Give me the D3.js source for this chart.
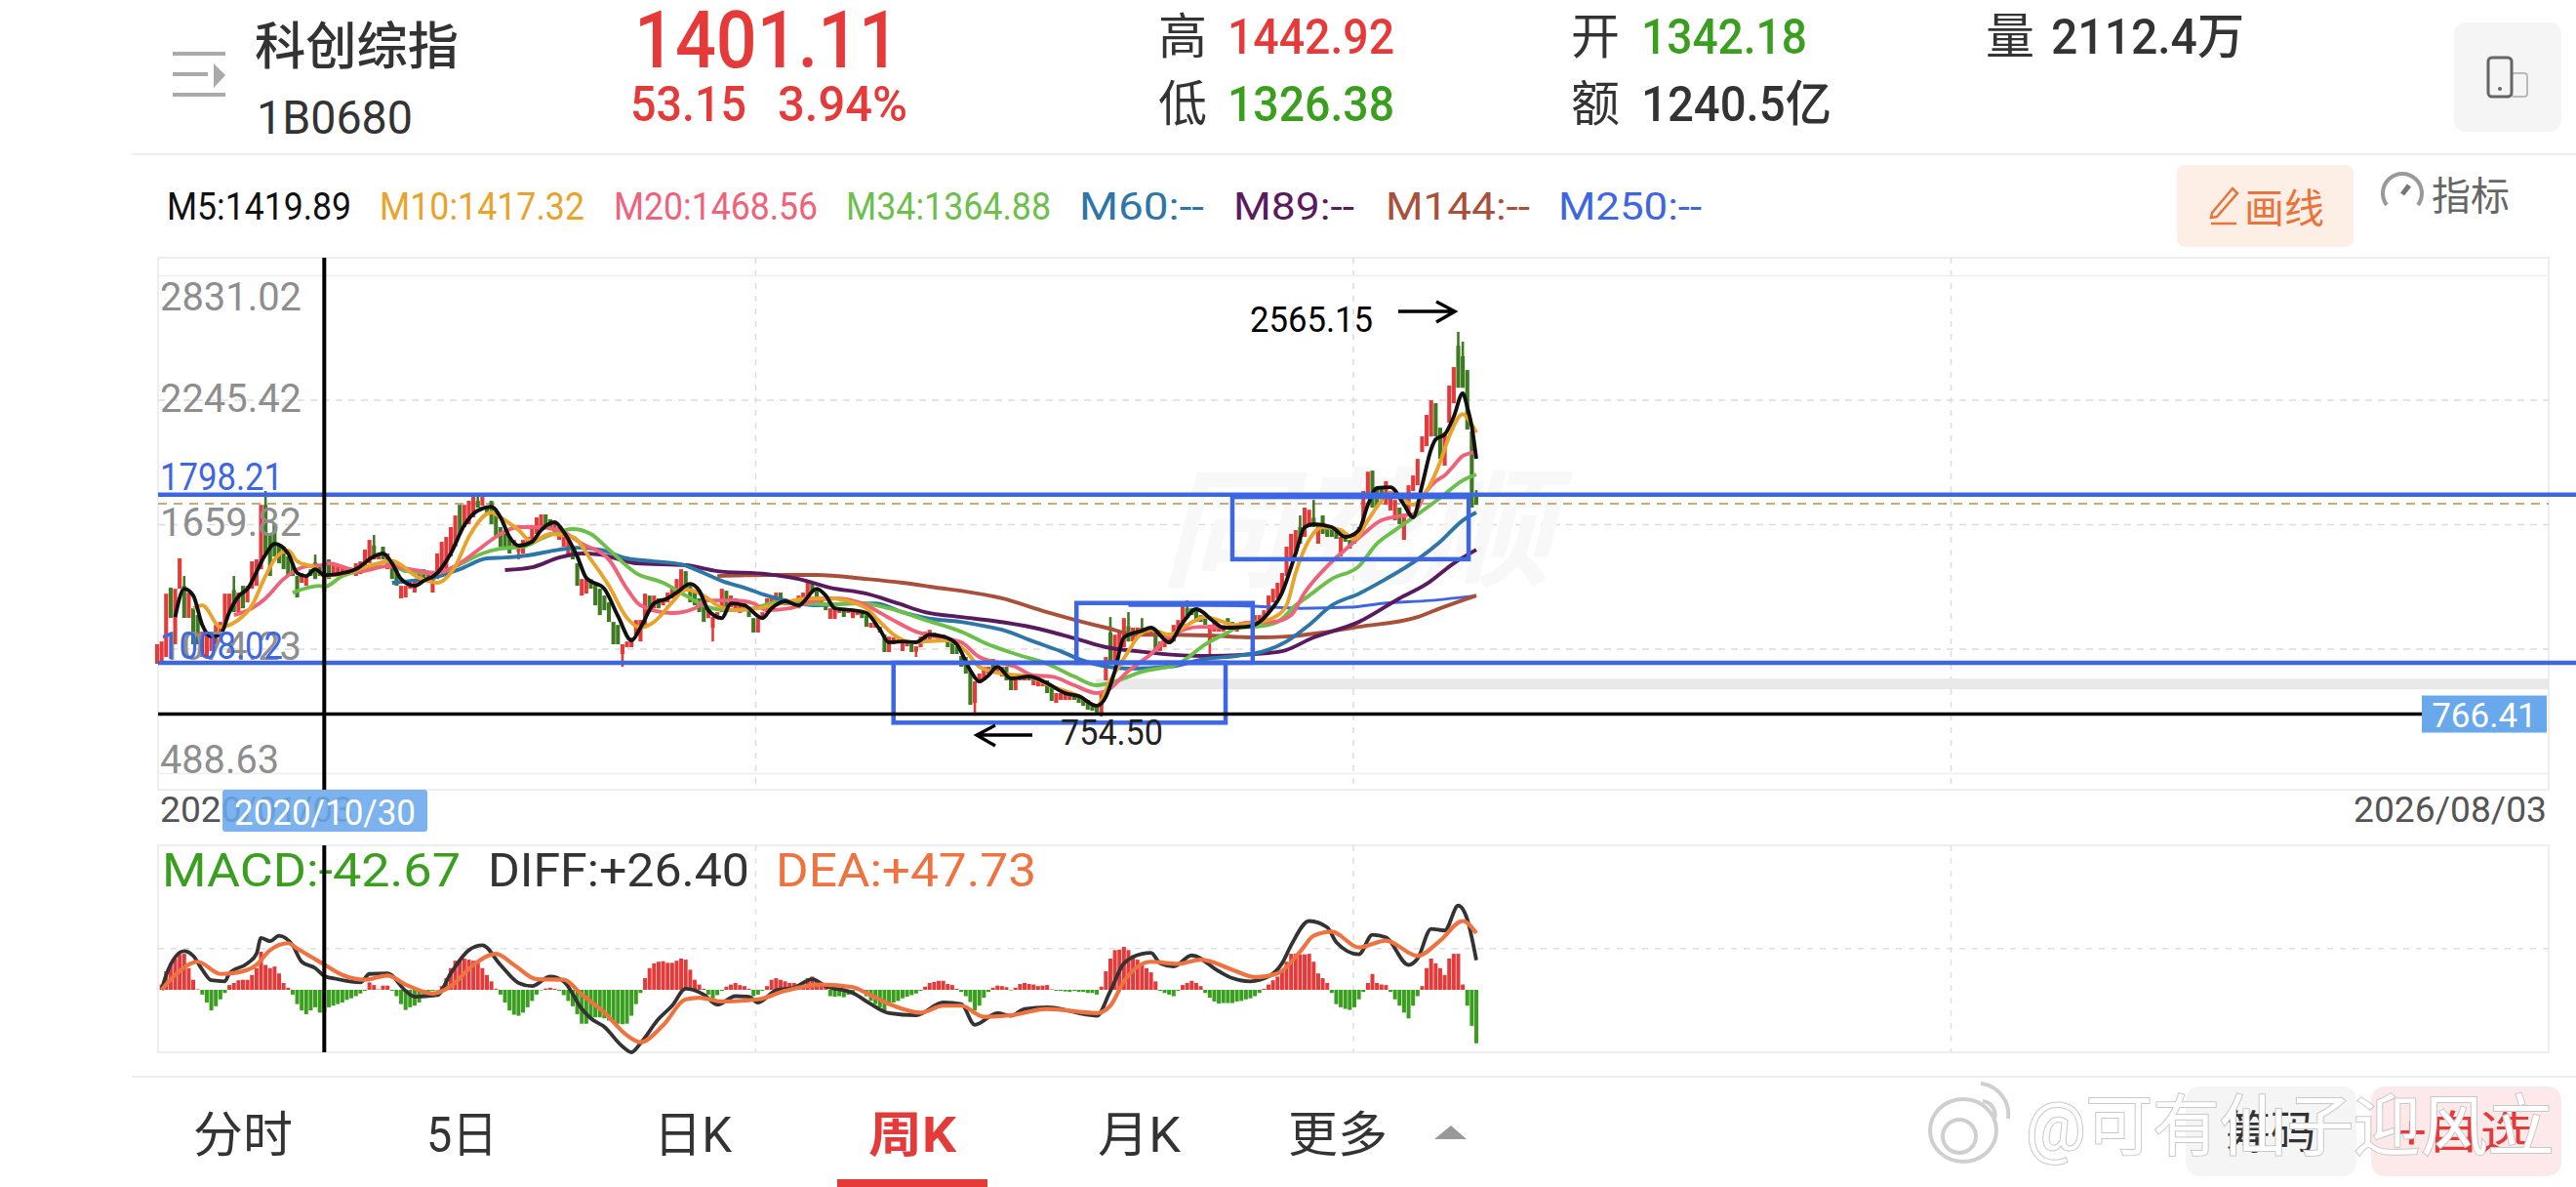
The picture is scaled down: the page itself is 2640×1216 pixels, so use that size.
<!DOCTYPE html>
<html>
<head>
<meta charset="utf-8">
<script src="https://cdn.jsdelivr.net/npm/d3@7"></script>
<style>
  html, body { margin: 0; padding: 0; background: #fff; }
  svg { display: block; }
  text { font-family: Roboto, "Noto Sans CJK SC", sans-serif; }
</style>
</head>
<body>
<svg id="chart" width="2640" height="1216"></svg>
<script>
// weekly candles, left to right
var candleOpen = [
  1003,1017,1035,1361,1095,1356,1370,1219,1264,1232,
  1035,1035,1063,1095,1127,1186,1246,1350,1246,1370,
  1292,1356,1370,1448,1751,1614,1660,1568,1554,1508,
  1476,1416,1384,1370,1448,1480,1462,1342.18,1494,1416,
  1430,1425,1448,1425,1416,1425,1448,1476,1560,1494,
  1554,1448,1494,1448,1311,1315,1356,1338,1384,1448,
  1384,1338,1402,1430,1448,1508,1554,1751,1646,1660,
  1692,1770,1747,1747,1770,1706,1646,1614,1600,1554,
  1530,1522,1568,1568,1614,1646,1706,1683,1614,1586,
  1554,1508,1554,1476,1324,1333,1402,1384,1356,1324,
  1292,1200,1186,1049,1081,1081,1140,1108,1173,1324,
  1264,1311,1278,1292,1311,1333,1356,1439,1370,1338,
  1311,1278,1218,1173,1218,1246,1347,1269,1264,1242,
  1264,1255,1218,1150,1218,1246,1278,1278,1338,1311,
  1278,1292,1264,1292,1311,1384,1356,1287,1292,1214,
  1214,1242,1255,1242,1218,1232,1242,1232,1173,1173,
  1177,1140,1058,1095,1104,1063,1085,1095,1060,1081,
  1108,1117,1127,1117,1140,1117,1104,1085,1040,1035,
  971,819,911,925,957,1026,957,943,989,943,
  879,925,925,948,902,897,897,925,897,819,
  833,833,833,865,851,842,833,810,805,773,
  925,1150,1017,1063,1081,1180,1108,1140,1173,1140,
  1140,1154,1063,1081,1095,1108,1140,1173,1264,1264,
  1264,1232,1218,1108,1154,1154,1154,1218,1200,1154,
  1173,1173,1173,1200,1209,1218,1246,1292,1311,1338,
  1416,1494,1522,1646,1600,1646,1690,1568,1701,1646,
  1646,1632,1508,1614,1586,1568,1600,1646,1784,1912,
  1830,1839,1751,1724,1678,1738,1586,1706,1816,1843,
  1999,2027,2073,2229,2114,1935,2137,2229,2500,2450,2385,2096,1800
];
var candleClose = [
  1095,1108,1333,1219,1356,1499,1219,1338,1095,1095,
  1154,1140,1140,1186,1200,1333,1333,1246,1338,1264,
  1370,1485,1494,1751,1522,1416,1508,1476,1448,1416,
  1416,1315,1430,1416,1416,1402,1416,1401.11,1402,1476,
  1471,1453,1425,1453,1476,1485,1540,1586,1494,1522,
  1494,1522,1402,1370,1370,1370,1384,1402,1430,1402,
  1425,1402,1522,1577,1600,1646,1701,1614,1751,1770,
  1797,1738,1793,1706,1660,1600,1554,1540,1522,1586,
  1568,1586,1600,1646,1692,1706,1646,1632,1660,1646,
  1632,1586,1494,1370,1402,1402,1356,1278,1232,1255,
  1200,1095,1095,1095,1108,1127,1209,1209,1333,1246,
  1324,1264,1311,1338,1356,1402,1448,1356,1292,1278,
  1246,1200,1264,1223,1246,1356,1264,1324,1311,1278,
  1287,1223,1150,1218,1246,1311,1324,1338,1278,1278,
  1301,1269,1324,1338,1393,1338,1292,1311,1255,1264,
  1264,1255,1223,1255,1255,1246,1218,1177,1196,1196,
  1150,1058,1131,1127,1117,1104,1108,1058,1085,1131,
  1154,1163,1150,1140,1117,1081,1049,1049,989,957,
  810,920,957,989,989,971,989,989,925,879,
  943,948,948,925,943,925,925,865,828,865,
  865,865,865,833,819,805,787,782,773,865,
  1035,1003,1140,1154,1218,1108,1173,1173,1140,1173,
  1173,1063,1108,1127,1127,1186,1209,1278,1218,1232,
  1200,1200,1186,1186,1200,1186,1186,1186,1173,1186,
  1200,1200,1200,1232,1232,1255,1324,1356,1384,1430,
  1554,1614,1632,1568,1738,1728,1646,1660,1614,1600,
  1600,1591,1600,1577,1545,1614,1646,1816,1907,1738,
  1738,1797,1862,1816,1774,1660,1692,1843,1889,1967,
  2073,2174,2243,2073,1967,2091,2312,2399,2302,2302,2105,1738,1751
];
// only the candles whose wick can be told from the body
var wickBars = [6,17,24,35,37,48,71,80,103,123,168,181,209,211,215,218,228,233,253,256,288,289,292];
var wickHigh = [1416,1416,1816,1517,1442.92,1609,1797,1568,1095,1223,1085,920,874,1223,1246,1218,1301,1186,1701,1774,2565.15,2519,1820];
var wickLow = [1219,1246,1522,1402,1326.38,1494,1738,1494,989,1108,1035,759,754.5,1003,1108,1140,1218,1035,1568,1646,2302,2302,1751];

// moving averages: bar number and value of the points
var m5Bars = [4,6,8,10,12,14,16,18,20,24,26,29,31,33,35,37,40,44,48,50,52,54,57,59,62,65,68,71,74,76,78,80,83,85,88,90,93,95,99,102,105,107,110,113,115,118,120,122,125,127,130,134,136,139,142,146,148,150,154,157,160,162,165,168,171,174,177,180,182,184,186,189,193,197,201,204,208,210,212,214,218,220,224,227,230,234,236,241,244,246,249,252,254,256,260,263,266,268,270,273,276,278,280,282,283,285,287,289,290,291,292];
var m5Vals = [1223,1356,1324,1186,1131,1140,1246,1320,1356,1517,1568,1522,1430,1416,1448,1419.89,1425,1448,1508,1522,1476,1402,1370,1393,1430,1522,1655,1724,1742,1692,1600,1559,1577,1632,1669,1623,1508,1407,1356,1228,1113,1173,1287,1311,1338,1379,1347,1255,1218,1287,1278,1218,1264,1297,1278,1356,1324,1264,1255,1242,1163,1104,1108,1104,1140,1131,1095,972,920,948,989,934,943,911,865,851,805,847,970,1127,1159,1173,1104,1196,1260,1200,1173,1177,1200,1242,1338,1522,1646,1660,1646,1600,1632,1751,1830,1834,1751,1692,1843,2013,2059,2082,2165,2275,2211,2119,1967];
var m10Bars = [8,10,14,17,21,24,26,29,31,35,37,42,48,52,58,62,66,69,74,76,80,83,87,92,96,100,104,107,110,114,117,121,124,128,133,139,144,149,154,157,160,163,167,170,175,179,182,187,193,198,204,208,211,215,217,220,224,228,232,236,238,243,247,250,252,255,258,262,265,268,271,273,276,278,281,284,286,289,290,292];
var m10Vals = [1264,1278,1177,1196,1278,1416,1494,1536,1485,1453,1417.32,1430,1471,1485,1407,1384,1462,1600,1715,1692,1632,1577,1614,1600,1494,1370,1219,1173,1200,1292,1352,1324,1278,1255,1264,1292,1311,1311,1292,1264,1200,1140,1104,1108,1113,1062,989,957,943,897,851,805,925,1062,1127,1163,1140,1186,1223,1200,1186,1196,1219,1278,1430,1586,1646,1632,1591,1678,1770,1807,1774,1751,1816,1953,2073,2178,2160,2091];
var m20Bars = [17,21,24,28,33,37,38,42,45,51,56,62,67,72,76,80,84,89,94,100,104,107,114,119,122,128,132,135,140,144,150,156,162,168,173,178,182,190,194,198,203,208,210,215,220,224,231,237,241,247,251,254,259,263,267,271,276,278,281,283,285,287,289,292];
var m20Vals = [1232,1264,1311,1402,1462,1468.56,1476,1453,1439,1462,1448,1430,1476,1554,1614,1646,1646,1632,1568,1494,1356,1278,1242,1264,1301,1301,1287,1255,1264,1292,1311,1287,1219,1154,1127,1104,1035,989,948,943,902,865,874,970,1049,1131,1177,1173,1196,1200,1232,1338,1462,1540,1614,1678,1701,1706,1816,1862,1889,1935,1981,1999];
var m34Bars = [30,36,37,41,47,51,55,62,67,72,76,81,86,92,96,100,106,112,117,122,126,132,137,142,149,156,162,170,178,184,190,197,203,208,212,218,226,232,237,239,243,248,252,255,260,266,270,274,279,284,289,292];
var m34Vals = [1338,1370,1364.88,1416,1453,1485,1439,1430,1471,1522,1545,1554,1600,1637,1614,1540,1430,1384,1324,1269,1255,1264,1292,1287,1283,1287,1264,1209,1154,1094,1049,1003,943,902,920,966,1003,1094,1150,1173,1177,1200,1278,1324,1402,1462,1568,1632,1706,1784,1866,1894];
var m60Bars = [52,56,61,67,73,77,82,89,93,98,104,110,116,121,125,130,135,141,146,154,159,165,170,178,184,187,194,200,204,209,215,224,232,239,245,250,255,260,266,272,279,284,289,292];
var m60Vals = [1384,1393,1407,1448,1499,1503,1513,1540,1549,1540,1499,1485,1471,1430,1393,1361,1324,1292,1278,1287,1287,1246,1219,1200,1177,1163,1108,1062,1026,994,980,989,1026,1040,1062,1108,1186,1278,1333,1402,1494,1577,1678,1715];
var m89Bars = [77,83,89,94,98,106,117,124,135,142,149,157,164,170,178,185,194,204,210,217,226,233,243,249,256,266,275,281,287,292];
var m89Vals = [1444,1457,1503,1522,1517,1476,1467,1439,1425,1402,1361,1333,1287,1246,1223,1205,1173,1117,1081,1062,1044,1040,1049,1062,1127,1200,1311,1379,1476,1540];
var m144Bars = [124,135,146,157,165,171,187,197,204,210,217,224,233,243,250,258,266,279,284,292];
var m144Vals = [1416,1421,1421,1402,1384,1366,1311,1246,1205,1173,1140,1140,1136,1127,1131,1150,1177,1223,1264,1324];
var m250Bars = [215,232,243,253,264,271,282,292];
var m250Vals = [1278,1278,1274,1264,1269,1287,1301,1324];

var legendNames = ['M5:1419.89','M10:1417.32','M20:1468.56','M34:1364.88','M60:--','M89:--','M144:--','M250:--'];

// price axis
var priceTicks = [2831.02,2245.42,1659.82,1074.23,488.63];
var priceTickNames = ['2831.02','2245.42','1659.82','1074.23','488.63'];

// lines and boxes drawn by hand on the chart
var levelHigh = 1798.21, levelLow = 1008.02, levelDashed = 1756, levelMark = 766.41;
var boxBars = [[163,236.5],[203.5,242.5],[238,290.3]];
var boxTop = [1008,1289,1788];
var boxBottom = [726,1008,1495];
var shadeTop = 933, shadeBottom = 883;

// MACD, one bar per candle
var macdBars = [
  0,10,35,50,59,67,68,41,19,1,
  -9,-24,-39,-31,-18,-6,9,13,18,19,
  19,28,41,72,47,41,44,31,13,4,
  -9,-27,-39,-46,-39,-33,-43,-42.67,-33,-30,
  -27,-24,-19,-16,-12,-7,-2,14,9,1,
  8,8,-2,-12,-27,-38,-33,-30,-24,-12,
  -6,-2,-1,7,22,41,55,57,59,57,
  55,51,41,28,16,2,-9,-24,-39,-47,
  -49,-43,-33,-21,-9,-1,2.5,4,2,-2,
  -10,-21,-31,-46,-64,-64,-55,-52,-52,-54,
  -58,-61,-64,-65,-64,-49,-27,-6,22,41,
  50,53,54,51,51,55,59,57,38,19,
  10,2,-9,-18,-10,-2,6,10,13,9,
  7,2,-12,-9,-2,7,19,22,19,16,
  13,13,10,10,22,25,19,10,7,-12,
  -13,-12,-14,-9,-6,-1,-2,-12,-21,-27,
  -33,-39,-30,-24,-21,-16,-13,-10,-7,-2,
  6,13,15,17,17,11,9,2,-4,-12,
  -23,-39,-30,-15,-4,4,8,7,5,-1,
  4,11,13,11,10,7,8,9,1,-2,
  -2,-3,-4,-2,-4,-4,-6,-6,-9,6,
  35,59,75,76,81,75,65,57,50,41,
  33,16,-2,-6,-9,-12,-2,9,13,17,
  13,7,-6,-15,-22,-26,-25,-25,-25,-22,
  -21,-18,-16,-12,-6,2,10,18,25,38,
  53,68,68,67,67,68,53,31,22,13,
  -6,-27,-33,-36,-38,-33,-18,-4,13,30,
  13,10,9,-4,-18,-30,-43,-54,-30,-12,
  7,41,59,50,41,28,59,68,68,10,-30,-68,-101
];
var diffBars = [1,2,6,8,10,12,15,16,20,22,23,25,27,30,32,35,37,40,45,47,51,55,57,62,65,69,72,76,80,83,87,90,94,96,99,103,105,107,111,114,117,121,124,128,131,133,137,141,145,148,154,158,162,168,174,178,181,186,189,192,197,208,211,214,218,220,222,225,229,235,238,242,246,249,251,255,259,261,266,269,272,277,279,282,285,288,290,292];
var diffVals = [0,28,73,64,38,18,16,31,50,68,98,92,102,84,53,41,26.4,20,14,30,31,-2,-13,-10,31,75,84,47,13,7,25,16,-36,-54,-70,-107,-118,-101,-55,-30,2,-9,-28,-12,-13,-24,-1,4,20,7,-6,-27,-44,-48,-24,-27,-66,-44,-49,-36,-33,-49,-2,50,68,70,50,44,65,35,22,16,25,50,84,130,118,90,67,104,99,47,59,115,112,159,133,56];
var deaBars = [1,4,9,14,18,22,25,29,31,37,41,46,51,55,61,65,70,75,79,84,90,94,99,104,107,112,117,120,125,133,139,147,154,157,163,169,174,178,183,189,197,208,211,214,220,226,231,238,243,248,253,256,260,266,272,279,284,289,292];
var deaVals = [0,28,53,30,33,47,75,88,78,47.73,28,19,27,10,-7,7,47,68,47,20,19,-9,-43,-86,-99,-67,-18,-15,-22,-18,-2,10,5,-6,-30,-43,-30,-30,-51,-48,-36,-44,-30,16,53,49,57,38,24,31,72,102,110,80,93,64,93,130,107];
var macdGridValue = 78;
var macdTitle = ['MACD:-42.67','DIFF:+26.40','DEA:+47.73'];

var crosshairBar = 37;
var startDate = '2020/01/03', endDate = '2026/08/03', crossDate = '2020/10/30';
var tabNames = ['分时','5日','日K','周K','月K','更多'];

var RED = '#e53a3a', CANDLE_GREEN = '#3d7a22', MACD_GREEN = '#3a9e1e', BLUE = '#3d66e3', FRAME = '#eeeeee', TAG = '#6aa8ec';

var svg = d3.select('#chart');

function label(parent, x, y, str, size, fill, width, weight) {
  var t = parent.append('text').attr('x', x).attr('y', y)
    .attr('font-size', size).attr('fill', fill).text(str);
  if (width) { t.attr('textLength', width).attr('lengthAdjust', 'spacingAndGlyphs'); }
  if (weight) { t.attr('font-weight', weight); }
  return t;
}

// ---- scales
var x = d3.scaleLinear().domain([0, 292]).range([161, 1513]);
var y = d3.scaleLinear().domain([488.63, 2831.02]).range([792, 282]);
var yMacd = d3.scaleLinear().domain([-118, 0]).range([1078, 1014]);
var colX = d3.scaleLinear().domain([0, 4]).range([162, 2612]);
var L = 162, R = 2612, candleW = 4.1;

// ---- header
var head = svg.append('g');
head.append('g').selectAll('rect').data([55, 76, 97]).enter().append('rect')
  .attr('x', 177).attr('y', function (d) { return d - 2; })
  .attr('width', function (d, i) { return i === 1 ? 36 : 54; }).attr('height', 4).attr('fill', '#aaa');
head.append('path').attr('d', 'M219,65L231,77L219,90Z').attr('fill', '#aaa');
label(head, 261, 66, '科创综指', 52, '#333', 209, 500);
label(head, 263, 137, '1B0680', 48, '#333', 160);
label(head, 650, 69, '1401.11', 82, RED, 272, 500);
label(head, 646, 124, '53.15', 50, RED, 119, 500);
label(head, 797, 124, '3.94%', 50, RED, 133, 500);
label(head, 1187, 55, '高', 50, '#333');
label(head, 1258, 55, '1442.92', 50, RED, 171, 500);
label(head, 1187, 124, '低', 50, '#333');
label(head, 1258, 124, '1326.38', 50, MACD_GREEN, 171, 500);
label(head, 1610, 55, '开', 50, '#333');
label(head, 1682, 55, '1342.18', 50, MACD_GREEN, 170, 500);
label(head, 1610, 124, '额', 50, '#333');
label(head, 1682, 124, '1240.5亿', 50, '#333', 195, 500);
label(head, 2035, 55, '量', 50, '#333');
label(head, 2102, 55, '2112.4万', 50, '#333', 198, 500);
head.append('rect').attr('x', 2515).attr('y', 23).attr('width', 110).attr('height', 112).attr('rx', 12).attr('fill', '#f5f5f5');
head.append('rect').attr('x', 2574).attr('y', 75).attr('width', 16).attr('height', 24).attr('rx', 3).attr('fill', 'none').attr('stroke', '#bbb').attr('stroke-width', 2);
head.append('rect').attr('x', 2550).attr('y', 59).attr('width', 24).attr('height', 40).attr('rx', 4).attr('fill', '#f5f5f5').attr('stroke', '#666').attr('stroke-width', 3);
head.append('circle').attr('cx', 2562).attr('cy', 91).attr('r', 2).attr('fill', '#666');
head.append('line').attr('x1', 135).attr('x2', 2640).attr('y1', 158).attr('y2', 158).attr('stroke', FRAME).attr('stroke-width', 2);

// ---- moving average legend
var maColors = ['#111111', '#e8a32a', '#ef6279', '#6cbf4b', '#2e75a8', '#5a1a5e', '#a8503a', '#3d66e3'];
var legendX = [171, 389, 629, 867, 1106, 1264, 1420, 1597];
var legendW = [189, 210, 209, 210, 128, 124, 148, 147];
legendNames.forEach(function (n, i) { label(svg, legendX[i], 225, n, 38, maColors[i], legendW[i]); });

// drawing and indicator buttons
svg.append('rect').attr('x', 2231).attr('y', 169).attr('width', 181).attr('height', 84).attr('rx', 8).attr('fill', '#fdeee6');
svg.append('path').attr('d', 'M2267,218L2288,193L2293,198L2272,222L2266,223ZM2266,229H2292')
  .attr('fill', 'none').attr('stroke', '#e8743b').attr('stroke-width', 2.5);
label(svg, 2300, 228, '画线', 41, '#e8743b', 82);
svg.append('path').attr('d', 'M2446,210A20,20 0 1 1 2478,210').attr('fill', 'none').attr('stroke', '#999').attr('stroke-width', 4);
svg.append('path').attr('d', 'M2462,199L2469,190').attr('stroke', '#777').attr('stroke-width', 5);
label(svg, 2492, 215, '指标', 40, '#666', 80);

// ---- price panel frame and grid
var panel = svg.append('g');
panel.append('rect').attr('x', L).attr('y', 264).attr('width', R - L).attr('height', 545)
  .attr('fill', 'none').attr('stroke', FRAME).attr('stroke-width', 2);
panel.append('g').selectAll('line').data([1, 2, 3]).enter().append('line')
  .attr('x1', colX).attr('x2', colX).attr('y1', 264).attr('y2', 809)
  .attr('stroke', '#dcdcdc').attr('stroke-width', 1.5).attr('stroke-dasharray', '6,7');

var yAxisG = panel.append('g').attr('transform', 'translate(' + L + ',0)')
  .call(d3.axisLeft(y).tickValues(priceTicks).tickSize(-(R - L)).tickFormat(''));
yAxisG.select('.domain').remove();
yAxisG.selectAll('.tick line').attr('stroke', function (d, i) { return (i === 0 || i === 4) ? FRAME : '#dcdcdc'; })
  .attr('stroke-width', 1.5).attr('stroke-dasharray', function (d, i) { return (i === 0 || i === 4) ? null : '7,6'; });

// watermark
panel.append('text').attr('x', 1190).attr('y', 590).attr('font-size', 132).attr('font-weight', 700)
  .attr('font-style', 'italic').attr('fill', '#f8f8f8').attr('textLength', 400).attr('lengthAdjust', 'spacingAndGlyphs').text('同花顺');

// grey shade and dashed level sit under the candles
panel.append('rect').attr('x', 1123).attr('width', R - 1123).attr('y', y(shadeTop)).attr('height', y(shadeBottom) - y(shadeTop)).attr('fill', '#e9e9e9');
panel.append('line').attr('x1', L).attr('x2', R).attr('y1', y(levelDashed)).attr('y2', y(levelDashed))
  .attr('stroke', '#c8a97e').attr('stroke-width', 2).attr('stroke-dasharray', '9,7');

// ---- candles
var colorOf = function (i) { return candleClose[i] >= candleOpen[i] ? RED : CANDLE_GREEN; };
panel.append('g').selectAll('line').data(wickBars).enter().append('line')
  .attr('x1', function (d) { return x(d); }).attr('x2', function (d) { return x(d); })
  .attr('y1', function (d, i) { return y(wickHigh[i]); }).attr('y2', function (d, i) { return y(wickLow[i]); })
  .attr('stroke', function (d) { return colorOf(d); }).attr('stroke-width', 2.6);
panel.append('g').selectAll('rect').data(candleOpen).enter().append('rect')
  .attr('x', function (d, i) { return x(i) - candleW / 2; }).attr('width', candleW)
  .attr('y', function (d, i) { return y(Math.max(d, candleClose[i])); })
  .attr('height', function (d, i) { return Math.max(1, Math.abs(y(d) - y(candleClose[i]))); })
  .attr('fill', function (d, i) { return colorOf(i); });

// ---- moving averages
var maLine = d3.line().x(function (d) { return x(d[0]); }).y(function (d) { return y(d[1]); }).curve(d3.curveMonotoneX);
var maSeries = [
  [m250Bars, m250Vals, 7], [m144Bars, m144Vals, 6], [m89Bars, m89Vals, 5], [m60Bars, m60Vals, 4],
  [m34Bars, m34Vals, 3], [m20Bars, m20Vals, 2], [m10Bars, m10Vals, 1], [m5Bars, m5Vals, 0]
];
maSeries.forEach(function (s) {
  panel.append('path').datum(d3.zip(s[0], s[1]))
    .attr('fill', 'none').attr('stroke', maColors[s[2]]).attr('stroke-width', s[2] === 7 ? 3 : 3.9)
    .attr('stroke-linejoin', 'round').attr('d', maLine);
});

// ---- hand drawn levels and boxes
[levelHigh, levelLow].forEach(function (v) {
  panel.append('line').attr('x1', L).attr('x2', 2640).attr('y1', y(v)).attr('y2', y(v)).attr('stroke', BLUE).attr('stroke-width', 4.5);
});
boxBars.forEach(function (b, i) {
  panel.append('rect').attr('x', x(b[0])).attr('width', x(b[1]) - x(b[0]))
    .attr('y', y(boxTop[i])).attr('height', y(boxBottom[i]) - y(boxTop[i]))
    .attr('fill', 'none').attr('stroke', BLUE).attr('stroke-width', 4.5);
});
panel.append('line').attr('x1', L).attr('x2', 2482).attr('y1', y(levelMark)).attr('y2', y(levelMark)).attr('stroke', '#000').attr('stroke-width', 3.6);
panel.append('rect').attr('x', 2482).attr('y', y(levelMark) - 19).attr('width', 128).attr('height', 38).attr('fill', TAG);
panel.append('text').attr('x', 2546).attr('y', y(levelMark) + 13).attr('text-anchor', 'middle')
  .attr('font-size', 35).attr('fill', '#fff').text(String(levelMark));

// ---- high and low marks
label(panel, 1281, 340, '2565.15', 37, '#000', 126);
panel.append('path').attr('d', 'M1433,319H1491M1472,309L1491,319L1472,330').attr('fill', 'none').attr('stroke', '#000').attr('stroke-width', 3.4);
label(panel, 1087, 763, '754.50', 37, '#222', 105);
panel.append('path').attr('d', 'M1058,753H1001M1020,743L1001,753L1020,764').attr('fill', 'none').attr('stroke', '#000').attr('stroke-width', 3.4);

// ---- price labels
var yBase = [318, 422, 549, 676, 792];
priceTicks.forEach(function (v, i) {
  label(panel, 164, yBase[i], priceTickNames[i], 40, '#8e8e8e', i === 4 ? 122 : 145);
});
label(panel, 164, 502, '1798.21', 38, BLUE, 126);
label(panel, 164, 675, '1008.02', 38, BLUE, 126);

// ---- date row
label(svg, 164, 842, startDate, 37, '#555', 198);
label(svg, 2412, 842, endDate, 37, '#555', 198);

// ---- MACD panel
var macd = svg.append('g');
macd.append('rect').attr('x', L).attr('y', 866).attr('width', R - L).attr('height', 212)
  .attr('fill', 'none').attr('stroke', FRAME).attr('stroke-width', 2);
macd.append('g').selectAll('line').data([1, 2, 3]).enter().append('line')
  .attr('x1', colX).attr('x2', colX).attr('y1', 866).attr('y2', 1078)
  .attr('stroke', '#e0e0e0').attr('stroke-width', 1.5).attr('stroke-dasharray', '6,7');
macd.append('line').attr('x1', L).attr('x2', R).attr('y1', yMacd(macdGridValue)).attr('y2', yMacd(macdGridValue))
  .attr('stroke', '#e0e0e0').attr('stroke-width', 1.5).attr('stroke-dasharray', '6,7');
macd.append('g').selectAll('rect').data(macdBars).enter().append('rect')
  .attr('x', function (d, i) { return x(i) - 2; }).attr('width', 4)
  .attr('y', function (d) { return d > 0 ? yMacd(d) : yMacd(0); })
  .attr('height', function (d) { return Math.abs(yMacd(d) - yMacd(0)); })
  .attr('fill', function (d) { return d > 0 ? RED : MACD_GREEN; });
var macdLine = d3.line().x(function (d) { return x(d[0]); }).y(function (d) { return yMacd(d[1]); }).curve(d3.curveMonotoneX);
macd.append('path').datum(d3.zip(diffBars, diffVals)).attr('fill', 'none').attr('stroke', '#333').attr('stroke-width', 3.8).attr('d', macdLine);
macd.append('path').datum(d3.zip(deaBars, deaVals)).attr('fill', 'none').attr('stroke', '#ef7340').attr('stroke-width', 4.2).attr('d', macdLine);
label(macd, 166, 908, macdTitle[0], 48, MACD_GREEN, 306);
label(macd, 500, 908, macdTitle[1], 48, '#333', 268);
label(macd, 795, 908, macdTitle[2], 48, '#ef7340', 267);

// ---- crosshair sits over everything
svg.append('line').attr('x1', x(crosshairBar)).attr('x2', x(crosshairBar)).attr('y1', 264).attr('y2', 809).attr('stroke', '#000').attr('stroke-width', 4);
svg.append('line').attr('x1', x(crosshairBar)).attr('x2', x(crosshairBar)).attr('y1', 866).attr('y2', 1078).attr('stroke', '#000').attr('stroke-width', 4);
svg.append('rect').attr('x', 228).attr('y', 809).attr('width', 210).attr('height', 43).attr('rx', 3).attr('fill', TAG).attr('fill-opacity', 0.88);
label(svg, 240, 845, crossDate, 36, '#fff', 186);

// ---- tabs
svg.append('line').attr('x1', 135).attr('x2', 2640).attr('y1', 1103).attr('y2', 1103).attr('stroke', FRAME).attr('stroke-width', 2);
var tabX = [198, 437, 670, 890, 1125, 1320];
var tabW = [102, 73, 80, 90, 85, 102];
tabNames.forEach(function (n, i) {
  label(svg, tabX[i], 1180, n, 50, i === 3 ? RED : '#333', tabW[i], i === 3 ? 700 : null);
});
svg.append('path').attr('d', 'M1470,1167L1487,1153L1503,1167Z').attr('fill', '#999');
svg.append('rect').attr('x', 858).attr('y', 1208).attr('width', 154).attr('height', 8).attr('fill', RED);

// buttons behind the weibo mark
svg.append('rect').attr('x', 2240).attr('y', 1113).attr('width', 175).attr('height', 92).attr('rx', 14).attr('fill', '#f5f5f5');
svg.append('rect').attr('x', 2430).attr('y', 1113).attr('width', 195).attr('height', 92).attr('rx', 14).attr('fill', '#fde9e9');
label(svg, 2281, 1176, '筹码', 46, '#333', 92);
label(svg, 2456, 1176, '+自选', 46, RED, 140);

// weibo mark
var wb = svg.append('g').attr('fill', '#fff').attr('stroke', '#cfcfcf').attr('stroke-width', 4);
wb.append('ellipse').attr('cx', 2012).attr('cy', 1158).attr('rx', 34).attr('ry', 32);
wb.append('ellipse').attr('cx', 2008).attr('cy', 1164).attr('rx', 17).attr('ry', 17);
wb.append('path').attr('d', 'M2030,1110A32,32 0 0 1 2058,1146').attr('fill', 'none');
wb.append('path').attr('d', 'M2032,1128A14,14 0 0 1 2044,1146').attr('fill', 'none');
svg.append('text').attr('x', 2076).attr('y', 1178).attr('font-size', 68).attr('fill', '#fff')
  .attr('stroke', '#c8c8c8').attr('stroke-width', 2).attr('paint-order', 'stroke')
  .attr('textLength', 542).attr('lengthAdjust', 'spacingAndGlyphs').text('@可有仙子迎风立');
</script>
</body>
</html>
